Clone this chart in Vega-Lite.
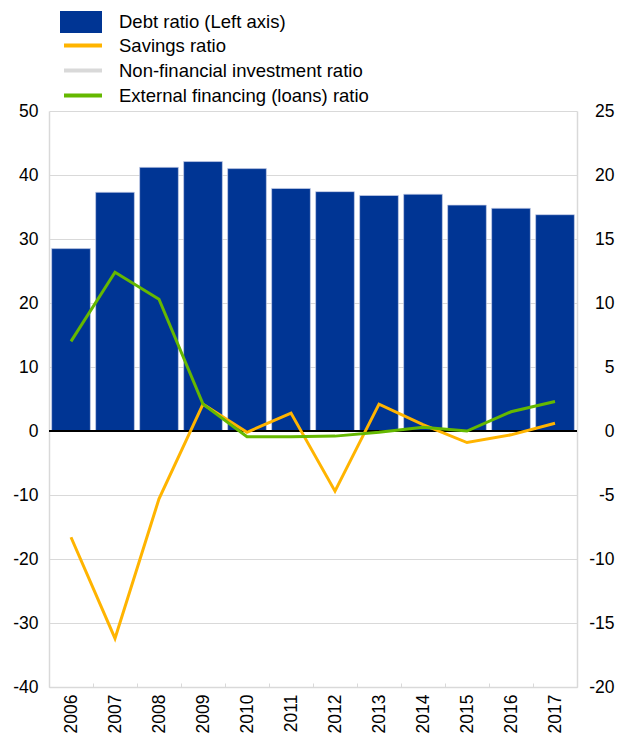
{
  "$schema": "https://vega.github.io/schema/vega-lite/v6.json",
  "width": 528,
  "height": 576,
  "autosize": {"type": "none"},
  "padding": {"left": 49, "top": 111, "right": 42, "bottom": 48},
  "config": {
    "font": "Liberation Sans",
    "view": {"stroke": null},
    "axis": {"labelFontSize": 17.5, "labelColor": "#000000", "labelFont": "Liberation Sans", "titleFontSize": 16},
    "legend": {"labelFontSize": 18.5, "labelFont": "Liberation Sans", "labelColor": "#000000", "labelLimit": 500, "padding": 0}
  },
  "datasets": {
    "bars": [
      {"year": "2006", "series": "Debt ratio (Left axis)", "debt": 28.5},
      {"year": "2007", "series": "Debt ratio (Left axis)", "debt": 37.3},
      {"year": "2008", "series": "Debt ratio (Left axis)", "debt": 41.2},
      {"year": "2009", "series": "Debt ratio (Left axis)", "debt": 42.1},
      {"year": "2010", "series": "Debt ratio (Left axis)", "debt": 41.0},
      {"year": "2011", "series": "Debt ratio (Left axis)", "debt": 37.9},
      {"year": "2012", "series": "Debt ratio (Left axis)", "debt": 37.4},
      {"year": "2013", "series": "Debt ratio (Left axis)", "debt": 36.8},
      {"year": "2014", "series": "Debt ratio (Left axis)", "debt": 37.0},
      {"year": "2015", "series": "Debt ratio (Left axis)", "debt": 35.3},
      {"year": "2016", "series": "Debt ratio (Left axis)", "debt": 34.8},
      {"year": "2017", "series": "Debt ratio (Left axis)", "debt": 33.8}
    ],
    "lines": [
      {"year": "2006", "series": "Savings ratio", "value": -8.3},
      {"year": "2007", "series": "Savings ratio", "value": -16.2},
      {"year": "2008", "series": "Savings ratio", "value": -5.3},
      {"year": "2009", "series": "Savings ratio", "value": 2.1},
      {"year": "2010", "series": "Savings ratio", "value": -0.1},
      {"year": "2011", "series": "Savings ratio", "value": 1.4},
      {"year": "2012", "series": "Savings ratio", "value": -4.7},
      {"year": "2013", "series": "Savings ratio", "value": 2.1},
      {"year": "2014", "series": "Savings ratio", "value": 0.5},
      {"year": "2015", "series": "Savings ratio", "value": -0.9},
      {"year": "2016", "series": "Savings ratio", "value": -0.3},
      {"year": "2017", "series": "Savings ratio", "value": 0.6},
      {"year": "2006", "series": "External financing (loans) ratio", "value": 7.0},
      {"year": "2007", "series": "External financing (loans) ratio", "value": 12.4},
      {"year": "2008", "series": "External financing (loans) ratio", "value": 10.3},
      {"year": "2009", "series": "External financing (loans) ratio", "value": 2.1},
      {"year": "2010", "series": "External financing (loans) ratio", "value": -0.45},
      {"year": "2011", "series": "External financing (loans) ratio", "value": -0.45},
      {"year": "2012", "series": "External financing (loans) ratio", "value": -0.4},
      {"year": "2013", "series": "External financing (loans) ratio", "value": -0.1},
      {"year": "2014", "series": "External financing (loans) ratio", "value": 0.3},
      {"year": "2015", "series": "External financing (loans) ratio", "value": 0.0},
      {"year": "2016", "series": "External financing (loans) ratio", "value": 1.5},
      {"year": "2017", "series": "External financing (loans) ratio", "value": 2.3}
    ]
  },
  "layer": [
    {
      "data": {"name": "bars"},
      "layer": [
        {
          "mark": {"type": "bar", "width": {"band": 0.88}, "stroke": "#c8d0e8", "strokeWidth": 0.7},
          "encoding": {
            "x": {
              "field": "year", "type": "ordinal",
              "scale": {"paddingInner": 0, "paddingOuter": 0},
              "axis": {"title": null, "labelAngle": 270, "labelPadding": 11, "tickBand": "extent", "tickColor": "#d9d9d9", "tickSize": -4, "domainColor": "#d9d9d9", "domainWidth": 1.5, "grid": false}
            },
            "y": {
              "field": "debt", "type": "quantitative",
              "scale": {"domain": [-40, 50], "nice": false, "zero": false},
              "axis": {"title": null, "orient": "left", "values": [-40, -30, -20, -10, 0, 10, 20, 30, 40, 50], "labelExpr": "toString(datum.value)", "ticks": false, "labelPadding": 11, "grid": true, "gridColor": "#d9d9d9", "gridWidth": 1, "domainColor": "#d9d9d9", "domainWidth": 1.5}
            },
            "color": {
              "field": "series", "type": "nominal",
              "scale": {"domain": ["Debt ratio (Left axis)"], "range": ["#003594"]},
              "legend": {"title": null, "orient": "none", "legendX": 11, "legendY": -110, "symbolType": "M-1,-0.524H1V0.524H-1Z", "symbolSize": 1764, "symbolStrokeWidth": 0, "symbolOpacity": 1, "labelOffset": 17}
            }
          }
        },
        {
          "mark": {"type": "rule", "color": "#000000", "strokeWidth": 2},
          "encoding": {"y": {"datum": 0}}
        }
      ]
    },
    {
      "data": {"name": "lines"},
      "mark": {"type": "line", "strokeWidth": 3},
      "encoding": {
        "x": {
          "field": "year", "type": "ordinal",
          "axis": {"title": null, "labelAngle": 270, "labelPadding": 11, "tickBand": "extent", "tickColor": "#d9d9d9", "tickSize": -4, "domainColor": "#d9d9d9", "domainWidth": 1.5, "grid": false}
        },
        "y": {
          "field": "value", "type": "quantitative",
          "scale": {"domain": [-20, 25], "nice": false, "zero": false},
          "axis": {"title": null, "orient": "right", "values": [-20, -15, -10, -5, 0, 5, 10, 15, 20, 25], "labelExpr": "toString(datum.value)", "labelAlign": "right", "ticks": false, "labelPadding": 37, "grid": false, "domainColor": "#d9d9d9", "domainWidth": 1.5}
        },
        "color": {
          "field": "series", "type": "nominal",
          "scale": {"domain": ["Savings ratio", "Non-financial investment ratio", "External financing (loans) ratio"], "range": ["#ffb400", "#d9d9d9", "#65b800"]},
          "legend": {"title": null, "orient": "none", "legendX": 13, "legendY": -78, "symbolType": "stroke", "symbolSize": 1444, "symbolStrokeWidth": 4, "clipHeight": 25, "rowPadding": 0, "labelOffset": 15}
        }
      }
    }
  ],
  "resolve": {"scale": {"y": "independent", "color": "independent"}}
}
